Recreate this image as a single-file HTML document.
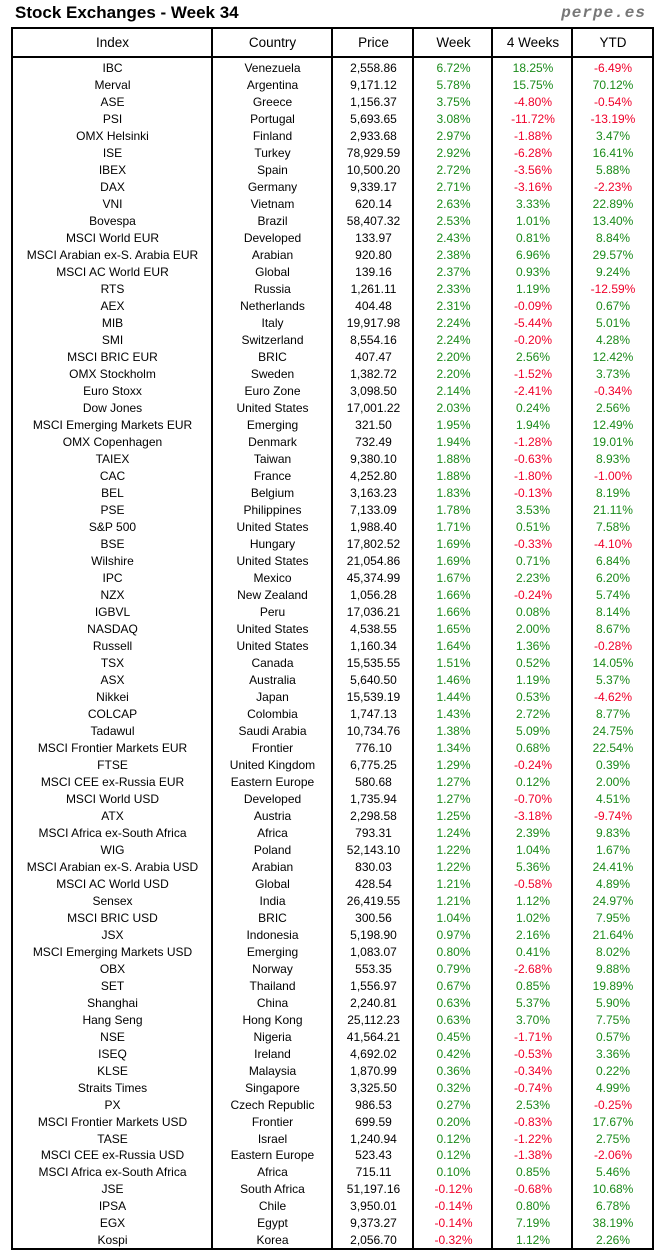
<!DOCTYPE html>
<html><head><meta charset="utf-8"><style>
body{margin:0;width:664px;height:1260px;background:#fff;font-family:"Liberation Sans",sans-serif;position:relative;overflow:hidden}
.t{position:absolute;left:15px;top:3px;font-size:17px;font-weight:bold;color:#000}
.p{position:absolute;right:18px;top:4px;font-size:16px;font-weight:bold;font-style:italic;color:#777;font-family:"Liberation Mono",monospace;letter-spacing:1px}
.box{position:absolute;left:11px;top:27px;width:639px;height:1219px;border:2px solid #000}
.v{position:absolute;top:27px;height:1221px;width:2px;background:#000}
.h{position:absolute;left:11px;top:56px;width:643px;height:2px;background:#000}
#rows{position:absolute;left:13px;top:60px;width:640px;height:1189px;display:flex;flex-direction:column}
.row{flex:1 1 0;font-size:12px;display:flex;align-items:center}
.hd{position:absolute;left:13px;top:29px;height:27px;line-height:27px;font-size:13.5px;display:flex}
.row div,.hd div{text-align:center}
.c1{width:199px}.c2{width:121px}.c3{width:81px}.c4{width:79px}.c5{width:80px}.c6{width:80px}
.g{color:#1a8a1a}.r{color:#f0002a}
</style></head><body>
<div class="t">Stock Exchanges - Week 34</div>
<div class="p">perpe.es</div>
<div class="box"></div>
<div class="v" style="left:211px"></div>
<div class="v" style="left:331px"></div>
<div class="v" style="left:412px"></div>
<div class="v" style="left:491px"></div>
<div class="v" style="left:571px"></div>
<div class="h"></div>
<div class="hd"><div class="c1">Index</div><div class="c2">Country</div><div class="c3">Price</div><div class="c4">Week</div><div class="c5">4 Weeks</div><div class="c6">YTD</div></div>
<div id="rows"></div>
<script>
var d=`IBC|Venezuela|2,558.86|6.72%|18.25%|-6.49%
Merval|Argentina|9,171.12|5.78%|15.75%|70.12%
ASE|Greece|1,156.37|3.75%|-4.80%|-0.54%
PSI|Portugal|5,693.65|3.08%|-11.72%|-13.19%
OMX Helsinki|Finland|2,933.68|2.97%|-1.88%|3.47%
ISE|Turkey|78,929.59|2.92%|-6.28%|16.41%
IBEX|Spain|10,500.20|2.72%|-3.56%|5.88%
DAX|Germany|9,339.17|2.71%|-3.16%|-2.23%
VNI|Vietnam|620.14|2.63%|3.33%|22.89%
Bovespa|Brazil|58,407.32|2.53%|1.01%|13.40%
MSCI World EUR|Developed|133.97|2.43%|0.81%|8.84%
MSCI Arabian ex-S. Arabia EUR|Arabian|920.80|2.38%|6.96%|29.57%
MSCI AC World EUR|Global|139.16|2.37%|0.93%|9.24%
RTS|Russia|1,261.11|2.33%|1.19%|-12.59%
AEX|Netherlands|404.48|2.31%|-0.09%|0.67%
MIB|Italy|19,917.98|2.24%|-5.44%|5.01%
SMI|Switzerland|8,554.16|2.24%|-0.20%|4.28%
MSCI BRIC EUR|BRIC|407.47|2.20%|2.56%|12.42%
OMX Stockholm|Sweden|1,382.72|2.20%|-1.52%|3.73%
Euro Stoxx|Euro Zone|3,098.50|2.14%|-2.41%|-0.34%
Dow Jones|United States|17,001.22|2.03%|0.24%|2.56%
MSCI Emerging Markets EUR|Emerging|321.50|1.95%|1.94%|12.49%
OMX Copenhagen|Denmark|732.49|1.94%|-1.28%|19.01%
TAIEX|Taiwan|9,380.10|1.88%|-0.63%|8.93%
CAC|France|4,252.80|1.88%|-1.80%|-1.00%
BEL|Belgium|3,163.23|1.83%|-0.13%|8.19%
PSE|Philippines|7,133.09|1.78%|3.53%|21.11%
S&amp;P 500|United States|1,988.40|1.71%|0.51%|7.58%
BSE|Hungary|17,802.52|1.69%|-0.33%|-4.10%
Wilshire|United States|21,054.86|1.69%|0.71%|6.84%
IPC|Mexico|45,374.99|1.67%|2.23%|6.20%
NZX|New Zealand|1,056.28|1.66%|-0.24%|5.74%
IGBVL|Peru|17,036.21|1.66%|0.08%|8.14%
NASDAQ|United States|4,538.55|1.65%|2.00%|8.67%
Russell|United States|1,160.34|1.64%|1.36%|-0.28%
TSX|Canada|15,535.55|1.51%|0.52%|14.05%
ASX|Australia|5,640.50|1.46%|1.19%|5.37%
Nikkei|Japan|15,539.19|1.44%|0.53%|-4.62%
COLCAP|Colombia|1,747.13|1.43%|2.72%|8.77%
Tadawul|Saudi Arabia|10,734.76|1.38%|5.09%|24.75%
MSCI Frontier Markets EUR|Frontier|776.10|1.34%|0.68%|22.54%
FTSE|United Kingdom|6,775.25|1.29%|-0.24%|0.39%
MSCI CEE ex-Russia EUR|Eastern Europe|580.68|1.27%|0.12%|2.00%
MSCI World USD|Developed|1,735.94|1.27%|-0.70%|4.51%
ATX|Austria|2,298.58|1.25%|-3.18%|-9.74%
MSCI Africa ex-South Africa|Africa|793.31|1.24%|2.39%|9.83%
WIG|Poland|52,143.10|1.22%|1.04%|1.67%
MSCI Arabian ex-S. Arabia USD|Arabian|830.03|1.22%|5.36%|24.41%
MSCI AC World USD|Global|428.54|1.21%|-0.58%|4.89%
Sensex|India|26,419.55|1.21%|1.12%|24.97%
MSCI BRIC USD|BRIC|300.56|1.04%|1.02%|7.95%
JSX|Indonesia|5,198.90|0.97%|2.16%|21.64%
MSCI Emerging Markets USD|Emerging|1,083.07|0.80%|0.41%|8.02%
OBX|Norway|553.35|0.79%|-2.68%|9.88%
SET|Thailand|1,556.97|0.67%|0.85%|19.89%
Shanghai|China|2,240.81|0.63%|5.37%|5.90%
Hang Seng|Hong Kong|25,112.23|0.63%|3.70%|7.75%
NSE|Nigeria|41,564.21|0.45%|-1.71%|0.57%
ISEQ|Ireland|4,692.02|0.42%|-0.53%|3.36%
KLSE|Malaysia|1,870.99|0.36%|-0.34%|0.22%
Straits Times|Singapore|3,325.50|0.32%|-0.74%|4.99%
PX|Czech Republic|986.53|0.27%|2.53%|-0.25%
MSCI Frontier Markets USD|Frontier|699.59|0.20%|-0.83%|17.67%
TASE|Israel|1,240.94|0.12%|-1.22%|2.75%
MSCI CEE ex-Russia USD|Eastern Europe|523.43|0.12%|-1.38%|-2.06%
MSCI Africa ex-South Africa|Africa|715.11|0.10%|0.85%|5.46%
JSE|South Africa|51,197.16|-0.12%|-0.68%|10.68%
IPSA|Chile|3,950.01|-0.14%|0.80%|6.78%
EGX|Egypt|9,373.27|-0.14%|7.19%|38.19%
Kospi|Korea|2,056.70|-0.32%|1.12%|2.26%`.split("\n");
var h="";
d.forEach(function(l,i){var f=l.split("|");
function c(v){return v.charAt(0)=="-"?"r":"g"}
h+='<div class="row"><div class="c1">'+f[0]+'</div><div class="c2">'+f[1]+'</div><div class="c3">'+f[2]+'</div><div class="c4 '+c(f[3])+'">'+f[3]+'</div><div class="c5 '+c(f[4])+'">'+f[4]+'</div><div class="c6 '+c(f[5])+'">'+f[5]+'</div></div>';});
document.getElementById("rows").innerHTML=h;
</script>
</body></html>
